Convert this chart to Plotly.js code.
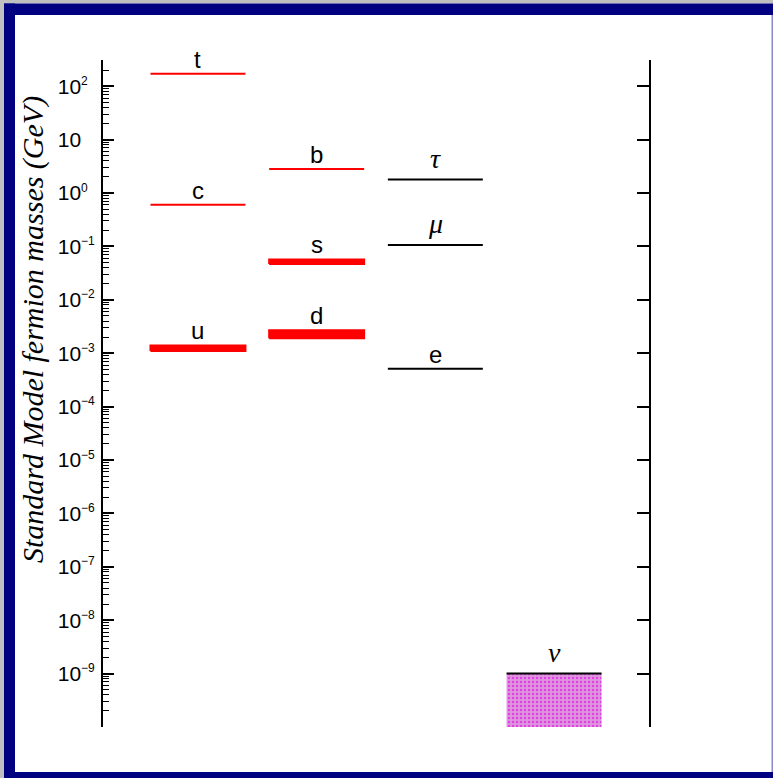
<!DOCTYPE html>
<html>
<head>
<meta charset="utf-8">
<script src="https://cdn.plot.ly/plotly-3.0.1.min.js"></script>
<style>html,body{margin:0;padding:0;background:#fff;}#chart{width:773px;height:778px;}</style>
</head>
<body>
<div id="chart"></div>
<script>
// ---- data (masses in GeV) ----
const particles = ['t', 'c', 'u', 'b', 's', 'd', 'τ', 'μ', 'e', 'ν'];
const family    = ['quark', 'quark', 'quark', 'quark', 'quark', 'quark', 'lepton', 'lepton', 'lepton', 'neutrino'];
const column    = [1, 1, 1, 2, 2, 2, 3, 3, 3, 4];
const massLow   = [170, 0.6, 1.1e-3, 2.8, 0.047, 1.9e-3, 1.78, 0.106, 5.1e-4, 1e-10];
const massHigh  = [170, 0.6, 1.4e-3, 2.8, 0.057, 2.7e-3, 1.78, 0.106, 5.1e-4, 1e-9];
const tickExponents = [2, 1, 0, -1, -2, -3, -4, -5, -6, -7, -8, -9];
const tickLabels = ['10<sup>2</sup>', '10', '10<sup>0</sup>', '10<sup>−1</sup>', '10<sup>−2</sup>', '10<sup>−3</sup>',
                    '10<sup>−4</sup>', '10<sup>−5</sup>', '10<sup>−6</sup>', '10<sup>−7</sup>', '10<sup>−8</sup>', '10<sup>−9</sup>'];
const yTitle = 'Standard Model fermion masses (GeV)';

// ---- layout geometry ----
const W = 773, H = 778, ML = 103, MR = 124, MT = 60, MB = 51;
const PW = W - ML - MR, PH = H - MT - MB;
const px = p => (p - ML) / PW;
const py = p => 1 - (p - MT) / PH;
const HALF = 0.4;

const sans = 'Liberation Sans, Arial, sans-serif';
const serif = 'Liberation Serif, Times New Roman, serif';

// style tick labels: small superscripts, padded invisibly so labels look left-aligned
const HIDE = '<span style="color:rgba(0,0,0,0)">';
function styleTick(lbl) {
  const m = lbl.match(/^(.*?)<sup>(.*)<\/sup>$/);
  const base = m ? m[1] : lbl;
  const sup = m ? m[2] : '';
  const pad = sup.length >= 2 ? '' : (sup.length === 1 ? '−' : '−1');
  return base + '<sup><span style="font-size:12px">' + sup +
         (pad ? HIDE + pad + '</span>' : '') + '</span></sup>';
}

const traces = [];
const annotations = [];
particles.forEach((name, i) => {
  const c = column[i], lo = massLow[i], hi = massHigh[i];
  const fam = family[i];
  if (fam === 'neutrino') {
    traces.push({
      x: [c - HALF, c + HALF, c + HALF, c - HALF, c - HALF],
      y: [lo, lo, hi, hi, lo],
      mode: 'lines', fill: 'toself', line: {width: 0, color: 'rgba(0,0,0,0)'},
      fillcolor: '#da92da',
      fillpattern: {shape: '.', fgcolor: '#e63ce6', bgcolor: '#dc98dc', size: 4, solidity: 0.3},
      hoverinfo: 'skip', showlegend: false
    });
    traces.push({x: [c - HALF, c + HALF], y: [hi, hi], mode: 'lines',
      line: {width: 2, color: '#000'}, showlegend: false, hoverinfo: 'skip'});
  } else {
    const col = fam === 'quark' ? '#ff0000' : '#000000';
    if (lo === hi) {
      traces.push({x: [c - HALF, c + HALF], y: [hi, hi], mode: 'lines',
        line: {width: 2, color: col}, showlegend: false, hoverinfo: 'skip'});
    } else {
      traces.push({
        x: [c - HALF, c + HALF, c + HALF, c - HALF, c - HALF],
        y: [lo, lo, hi, hi, lo],
        mode: 'lines', fill: 'toself', fillcolor: col,
        line: {width: 2, color: col}, showlegend: false, hoverinfo: 'skip'
      });
    }
  }
  const greek = (fam !== 'quark' && name !== 'e');
  annotations.push({
    x: c, y: Math.log10(hi), xref: 'x', yref: 'y',
    text: name, showarrow: false, xanchor: 'center', yanchor: 'bottom', yshift: greek ? 4 : -1,
    font: greek ? {family: serif, size: 28, color: '#000', style: 'italic'}
                : {family: sans, size: 24, color: '#000'}
  });
});
// empty trace to attach the right-hand axis
traces.push({x: [], y: [], yaxis: 'y2', showlegend: false});

annotations.push({
  xref: 'paper', yref: 'paper', x: px(33), y: py(330), xanchor: 'center', yanchor: 'middle',
  text: yTitle, textangle: -90, showarrow: false,
  font: {family: serif, size: 30, color: '#000', style: 'italic'}
});

const rect = (x0, y0, x1, y1, color) => ({
  type: 'rect', xref: 'paper', yref: 'paper', x0: px(x0), x1: px(x1), y0: py(y0), y1: py(y1),
  fillcolor: color, line: {width: 0}, layer: 'above'
});
const shapes = [
  rect(0, 0, W, 3.5, '#c0c0c0'),
  rect(0, 0, 4, H, '#c0c0c0'),
  rect(4, 3.5, W, 15, '#000080'),
  rect(4, 3.5, 15, H, '#000080'),
  rect(4, 772, W, H, '#000080'),
  rect(771.5, 15, W, 772, '#8a8ac8')
];

const yRange = [-10, 2.49];
const layout = {
  width: W, height: H,
  margin: {l: ML, r: MR, t: MT, b: MB, pad: 0},
  paper_bgcolor: '#ffffff', plot_bgcolor: '#ffffff',
  showlegend: false,
  xaxis: {range: [0.2, 4.8], visible: false, fixedrange: true},
  yaxis: {
    type: 'log', range: yRange, showgrid: false, zeroline: false,
    showline: true, linewidth: 2, linecolor: '#000',
    ticks: 'inside', ticklen: 11, tickwidth: 2, tickcolor: '#000',
    tickmode: 'array', tickvals: tickExponents.map(e => Math.pow(10, e)), ticktext: tickLabels.map(styleTick),
    tickfont: {family: sans, size: 21, color: '#000'},
    ticklabelstandoff: 2,
    minor: {ticks: 'inside', ticklen: 6, tickwidth: 1, tickcolor: '#000', dtick: 'D1', showgrid: false},
    automargin: false, fixedrange: true
  },
  yaxis2: {
    type: 'log', range: yRange, overlaying: 'y', side: 'right', anchor: 'x',
    showgrid: false, zeroline: false, showline: true, linewidth: 2, linecolor: '#000',
    ticks: 'inside', ticklen: 12, tickwidth: 2, tickcolor: '#000',
    tickmode: 'array', tickvals: tickExponents.map(e => Math.pow(10, e)),
    showticklabels: false, automargin: false, fixedrange: true
  },
  annotations: annotations,
  shapes: shapes
};

Plotly.newPlot('chart', traces, layout, {displayModeBar: false, staticPlot: true});
</script>
</body>
</html>
